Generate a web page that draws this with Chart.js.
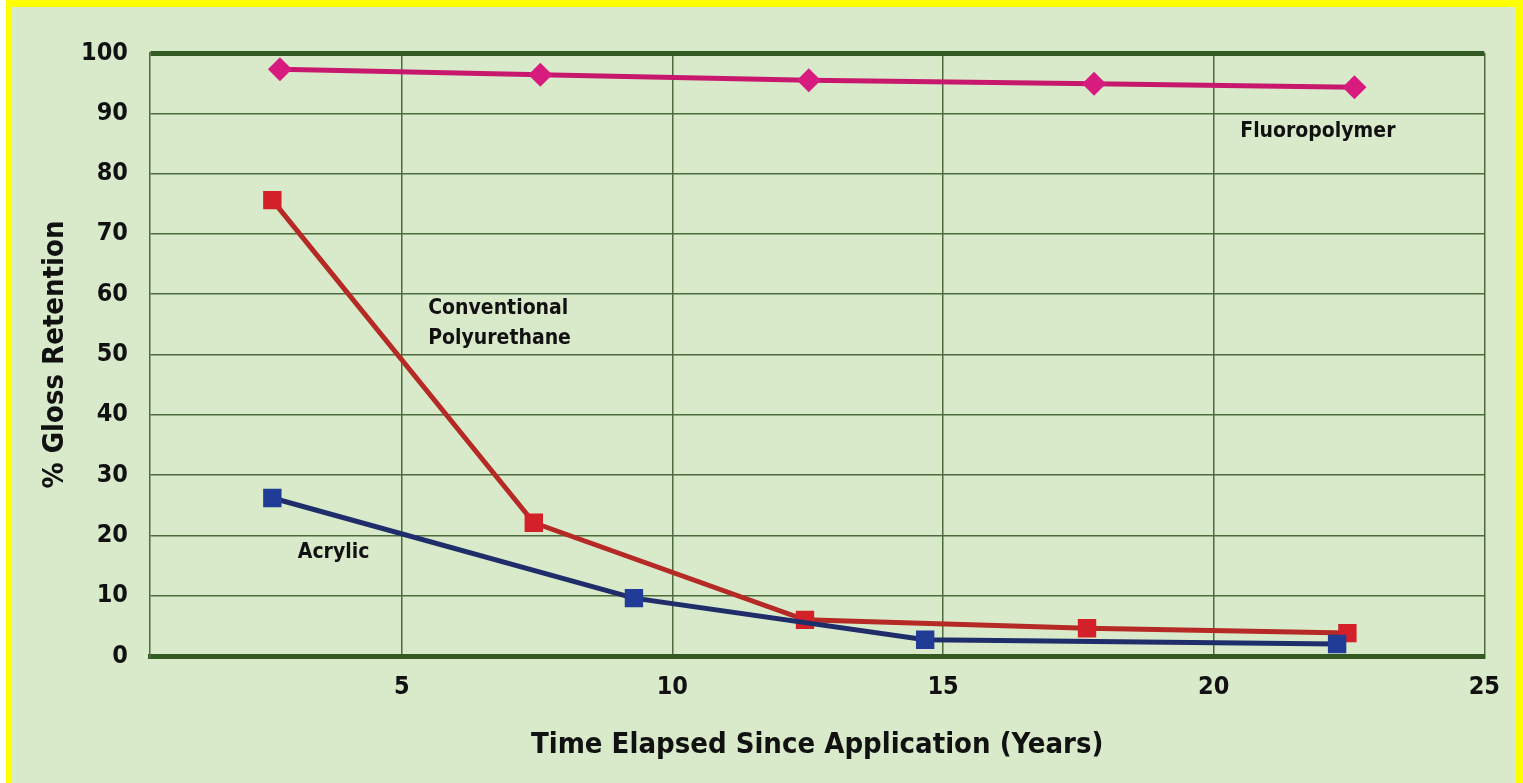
<!DOCTYPE html>
<html lang="en">
<head>
    <meta charset="UTF-8">
    <title>% Gloss Retention</title>
    <script src="https://cdn.jsdelivr.net/npm/chart.js"></script>
    <style>
        body {
            margin: 0;
            background: #fff;
        }
        #frame {
            position: absolute;
            left: 6px;
            top: 0;
            width: 1517px;
            height: 783px;
            background: #ffff00;
        }
        #inner {
            position: absolute;
            left: 6px;
            top: 7px;
            right: 7px;
            bottom: 0;
            background: #d9eacb;
        }
        #inner canvas {
            position: absolute;
            left: 0;
            top: 0;
        }
    </style>
</head>
<body>

    <div id="frame">
        <div id="inner">
            <canvas id="glossChart" width="1504" height="776"></canvas>
        </div>
    </div>

    <script>
        // Данные
        const fluoroX = [2.75, 7.56, 12.52, 17.79, 22.6];
        const fluoroY = [97.3, 96.4, 95.5, 94.9, 94.3];

        const urethaneX = [2.61, 7.44, 12.45, 17.66, 22.47];
        const urethaneY = [75.6, 22.1, 6.0, 4.6, 3.8];

        const acrylicX = [2.61, 9.29, 14.67, 22.28];
        const acrylicY = [26.2, 9.6, 2.7, 2.0];

        const xTicks = [5, 10, 15, 20, 25];
        const yTicks = [0, 10, 20, 30, 40, 50, 60, 70, 80, 90, 100];

        // Подписи серий прямо на графике (в координатах данных)
        const noteLines = [['Fluoropolymer'], ['Conventional', 'Polyurethane'], ['Acrylic']];
        const noteX = [20.49, 5.49, 3.08];
        const noteY = [86.9, 57.7, 17.2];

        const FONT = "'Liberation Sans Narrow', 'DejaVu Sans Condensed', Arial, sans-serif";
        const GRID = '#4d6b3d';
        const GRID_DARK = '#335a22';

        function toPoints(xs, ys) {
            return xs.map((x, i) => ({ x: x, y: ys[i] }));
        }

        const notesPlugin = {
            id: 'notes',
            afterDatasetsDraw(chart) {
                const { ctx, scales: { x, y } } = chart;
                ctx.save();
                ctx.font = 'bold 21px ' + FONT;
                ctx.fillStyle = '#111';
                ctx.textAlign = 'left';
                ctx.textBaseline = 'middle';
                noteLines.forEach((lines, i) => {
                    const px = x.getPixelForValue(noteX[i]);
                    const py = y.getPixelForValue(noteY[i]);
                    lines.forEach((t, j) => ctx.fillText(t, px, py + j * 30));
                });
                ctx.restore();
            }
        };

        const ctx = document.getElementById('glossChart').getContext('2d');
        const glossChart = new Chart(ctx, {
            type: 'line',
            data: {
                datasets: [
                    {
                        label: 'Fluoropolymer',
                        data: toPoints(fluoroX, fluoroY),
                        borderColor: '#c8186e',
                        backgroundColor: '#d81b7e',
                        borderWidth: 5,
                        pointStyle: 'rectRot',
                        pointRadius: 12,
                        pointBorderWidth: 0
                    },
                    {
                        label: 'Conventional Polyurethane',
                        data: toPoints(urethaneX, urethaneY),
                        borderColor: '#b52a25',
                        backgroundColor: '#d42028',
                        borderWidth: 5,
                        pointStyle: 'rect',
                        pointRadius: 13,
                        pointBorderWidth: 0
                    },
                    {
                        label: 'Acrylic',
                        data: toPoints(acrylicX, acrylicY),
                        borderColor: '#1f2e6a',
                        backgroundColor: '#203c96',
                        borderWidth: 5,
                        pointStyle: 'rect',
                        pointRadius: 13,
                        pointBorderWidth: 0
                    }
                ].reverse()
            },
            options: {
                responsive: false,
                animation: false,
                layout: { padding: { left: 0, right: 23, top: 46, bottom: 0 } },
                plugins: {
                    legend: { display: false },
                    tooltip: { enabled: false }
                },
                scales: {
                    x: {
                        type: 'linear',
                        min: 0.35,
                        max: 25,
                        afterBuildTicks: s => { s.ticks = xTicks.map(v => ({ value: v })); },
                        afterFit: s => { s.height = 127; },
                        grid: {
                            color: GRID,
                            lineWidth: 1.5,
                            drawTicks: false
                        },
                        border: { display: true, color: GRID_DARK, width: 5 },
                        ticks: {
                            padding: 16,
                            color: '#111',
                            font: { family: FONT, size: 25, weight: 'bold' }
                        },
                        title: {
                            display: true,
                            text: 'Time Elapsed Since Application (Years)',
                            color: '#111',
                            font: { family: FONT, size: 29, weight: 'bold' },
                            padding: { top: 0, bottom: 20 }
                        }
                    },
                    y: {
                        min: 0,
                        max: 100,
                        afterBuildTicks: s => { s.ticks = yTicks.map(v => ({ value: v })); },
                        afterFit: s => { s.width = 138; },
                        grid: {
                            color: c => (c.tick.value === 100 || c.tick.value === 0) ? GRID_DARK : GRID,
                            lineWidth: c => (c.tick.value === 100 || c.tick.value === 0) ? 5 : 1.5,
                            drawTicks: false
                        },
                        border: { display: true, color: GRID, width: 1.5 },
                        ticks: {
                            padding: 22,
                            color: '#111',
                            font: { family: FONT, size: 25, weight: 'bold' }
                        },
                        title: {
                            display: true,
                            text: '% Gloss Retention',
                            color: '#111',
                            font: { family: FONT, size: 29, weight: 'bold' },
                            padding: { top: 26, bottom: 0 }
                        }
                    }
                }
            },
            plugins: [notesPlugin]
        });
    </script>
</body>
</html>
